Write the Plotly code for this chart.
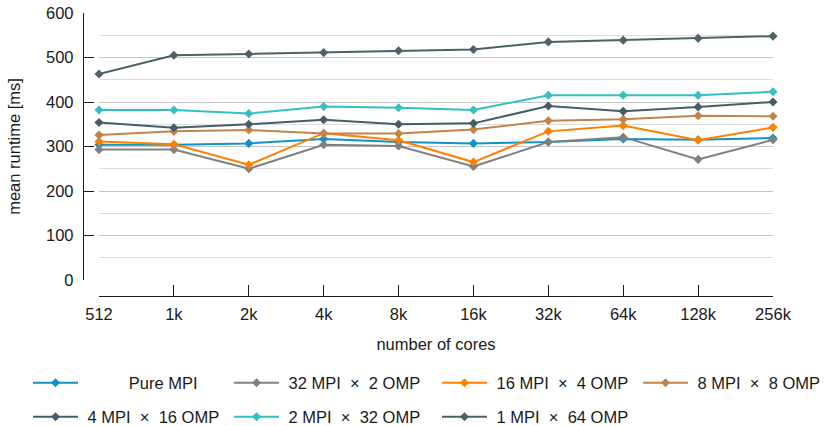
import plotly.graph_objects as go

cores = ["512", "1k", "2k", "4k", "8k", "16k", "32k", "64k", "128k", "256k"]

pure_mpi = [304, 304, 307, 317, 310, 307, 310, 317, 315, 319]
mpi32_omp2 = [293, 293, 250, 304, 301, 255, 310, 321, 271, 315]
mpi16_omp4 = [311, 305, 259, 330, 314, 265, 334, 347, 314, 343]
mpi8_omp8 = [326, 334, 337, 329, 329, 338, 358, 361, 369, 368]
mpi4_omp16 = [354, 342, 350, 360, 350, 352, 391, 379, 389, 400]
mpi2_omp32 = [382, 382, 374, 390, 387, 382, 415, 415, 415, 423]
mpi1_omp64 = [463, 505, 508, 511, 515, 518, 535, 539, 543, 548]

y_ticks = [0, 100, 200, 300, 400, 500, 600]

NB = "\u00a0"
X = NB + " \u00d7 " + NB

series = [
    (NB * 10 + "Pure MPI", pure_mpi, "#1192c6", "legend"),
    (NB + "32 MPI" + X + "2 OMP", mpi32_omp2, "#808080", "legend"),
    (NB + "16 MPI" + X + "4 OMP", mpi16_omp4, "#ff8000", "legend2"),
    (NB + "8 MPI" + X + "8 OMP", mpi8_omp8, "#c0844a", "legend2"),
    (NB + "4 MPI" + X + "16 OMP", mpi4_omp16, "#475c66", "legend3"),
    (NB + "2 MPI" + X + "32 OMP", mpi2_omp32, "#33bfc4", "legend3"),
    (NB + "1 MPI" + X + "64 OMP", mpi1_omp64, "#4d6166", "legend4"),
]

fig = go.Figure()
for name, vals, color, lg in series:
    fig.add_trace(go.Scatter(
        x=cores, y=vals, name=name, mode="lines+markers",
        line=dict(color=color, width=2),
        marker=dict(symbol="diamond", size=7, color=color),
        cliponaxis=False, legend=lg,
    ))

W, H = 831, 426
l, r, t, b = 83, 58, 13, 130
pw = W - l - r
ph = H - t - b

font = dict(family="Liberation Sans, Arial, sans-serif", size=16.5, color="#1a1a1a")

legend_common = dict(
    orientation="h", xanchor="left", yanchor="middle",
    xref="container", yref="container",
    font=font, itemwidth=45, entrywidth=141, entrywidthmode="pixels",
    bgcolor="rgba(0,0,0,0)", traceorder="normal",
)

row1 = 383
row2 = 417
col1 = 33 - 5
col2 = 442 - 5

fig.update_layout(
    width=W, height=H,
    margin=dict(l=l, r=r, t=t, b=b, autoexpand=False),
    paper_bgcolor="white", plot_bgcolor="white",
    font=font,
    showlegend=True,
    legend=dict(x=col1 / W, y=1 - row1 / H, **legend_common),
    legend2=dict(x=col2 / W, y=1 - row1 / H, **legend_common),
    legend3=dict(x=col1 / W, y=1 - row2 / H, **legend_common),
    legend4=dict(x=col2 / W, y=1 - row2 / H, **legend_common),
    xaxis=dict(
        type="category", range=[0, 9],
        domain=[16 / pw, 1],
        anchor="free", position=0,
        showline=True, linecolor="#1a1a1a", linewidth=1.3,
        ticks="inside", ticklen=11, tickcolor="#1a1a1a", tickwidth=1,
        showgrid=False, zeroline=False,
        ticklabelstandoff=3,
        title=dict(text="number of cores", standoff=16, font=font),
    ),
    yaxis=dict(
        range=[0, 600], tickvals=y_ticks,
        domain=[16 / ph, 1],
        anchor="free", position=0,
        showline=True, linecolor="#1a1a1a", linewidth=1.3,
        ticks="inside", ticklen=10, tickcolor="#1a1a1a", tickwidth=1,
        showgrid=True, gridcolor="#c4c4c4", gridwidth=1.3,
        minor=dict(dtick=50, showgrid=True, gridcolor="#dedede", gridwidth=1),
        zeroline=False,
        ticklabelstandoff=6, ticklabeloverflow="allow",
        title=dict(text="mean runtime [ms]", standoff=20, font=font),
    ),
)

fig.write_html("out.html", config={"displayModeBar": False},
               post_script="document.body.style.margin='0';")
